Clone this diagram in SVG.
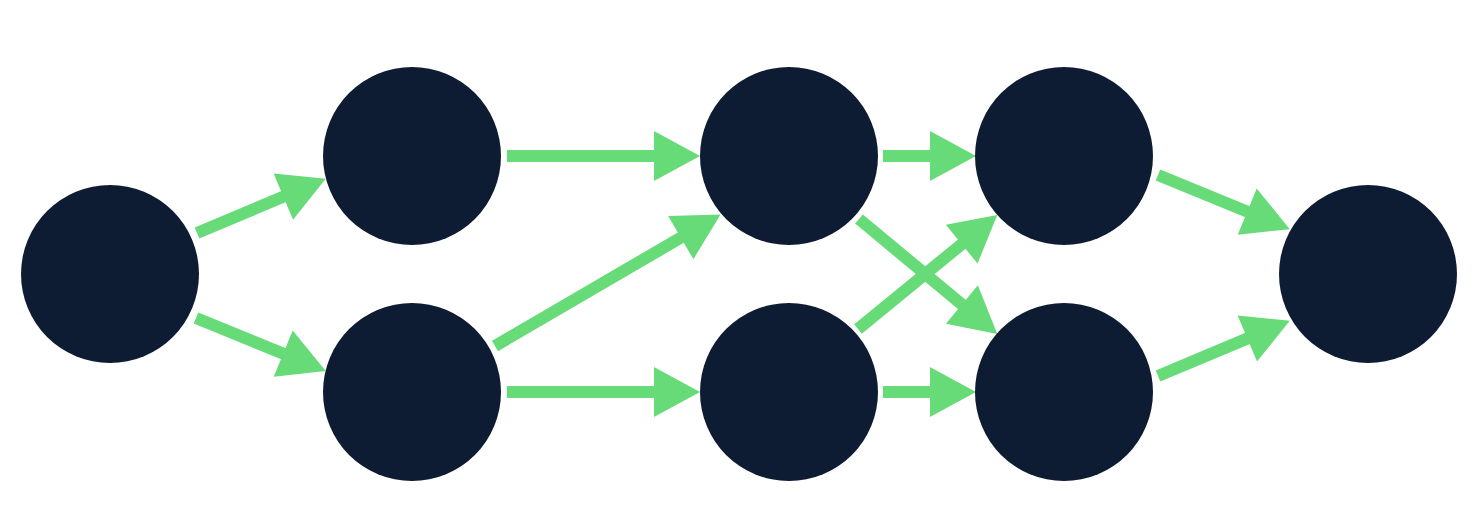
<svg xmlns="http://www.w3.org/2000/svg" width="1484" height="522" viewBox="0 0 1484 522">
<style>
.node{fill:#0E1C33}
.edge{stroke:#66DB78;stroke-width:12;fill:none;stroke-linecap:butt;marker-end:url(#ah)}
</style>
<defs>
<marker id="ah" markerUnits="userSpaceOnUse" markerWidth="44" markerHeight="50" refX="0" refY="25" orient="auto" overflow="visible">
<path d="M-3,0 L43,25 L-3,50 Z" fill="#66DB78"/>
</marker>
</defs>
<rect width="1484" height="522" fill="#ffffff"/>
<g id="connectors">
<line class="edge" x1="197" y1="233" x2="286.1" y2="195.5"/>
<line class="edge" x1="196" y1="318" x2="286" y2="354.8"/>
<line class="edge" x1="507" y1="156" x2="657" y2="156"/>
<line class="edge" x1="507" y1="392" x2="657" y2="392"/>
<line class="edge" x1="495" y1="346" x2="683.4" y2="236.1"/>
<line class="edge" x1="883" y1="156" x2="933" y2="156"/>
<line class="edge" x1="883" y1="392" x2="933" y2="392"/>
<line class="edge" x1="859" y1="219" x2="964.2" y2="306.4"/>
<line class="edge" x1="858" y1="329" x2="964" y2="242.3"/>
<line class="edge" x1="1158" y1="175" x2="1250" y2="212.8"/>
<line class="edge" x1="1158" y1="376" x2="1250.1" y2="337.4"/>
</g>
<g id="nodeA"><circle class="node" cx="110" cy="274" r="89"/></g>
<g id="nodeB"><circle class="node" cx="412" cy="156" r="89"/></g>
<g id="nodeC"><circle class="node" cx="412" cy="392" r="89"/></g>
<g id="nodeD"><circle class="node" cx="789" cy="156" r="89"/></g>
<g id="nodeE"><circle class="node" cx="789" cy="392" r="89"/></g>
<g id="nodeF"><circle class="node" cx="1064" cy="156" r="89"/></g>
<g id="nodeG"><circle class="node" cx="1064" cy="392" r="89"/></g>
<g id="nodeH"><circle class="node" cx="1368" cy="274" r="89"/></g>
</svg>
